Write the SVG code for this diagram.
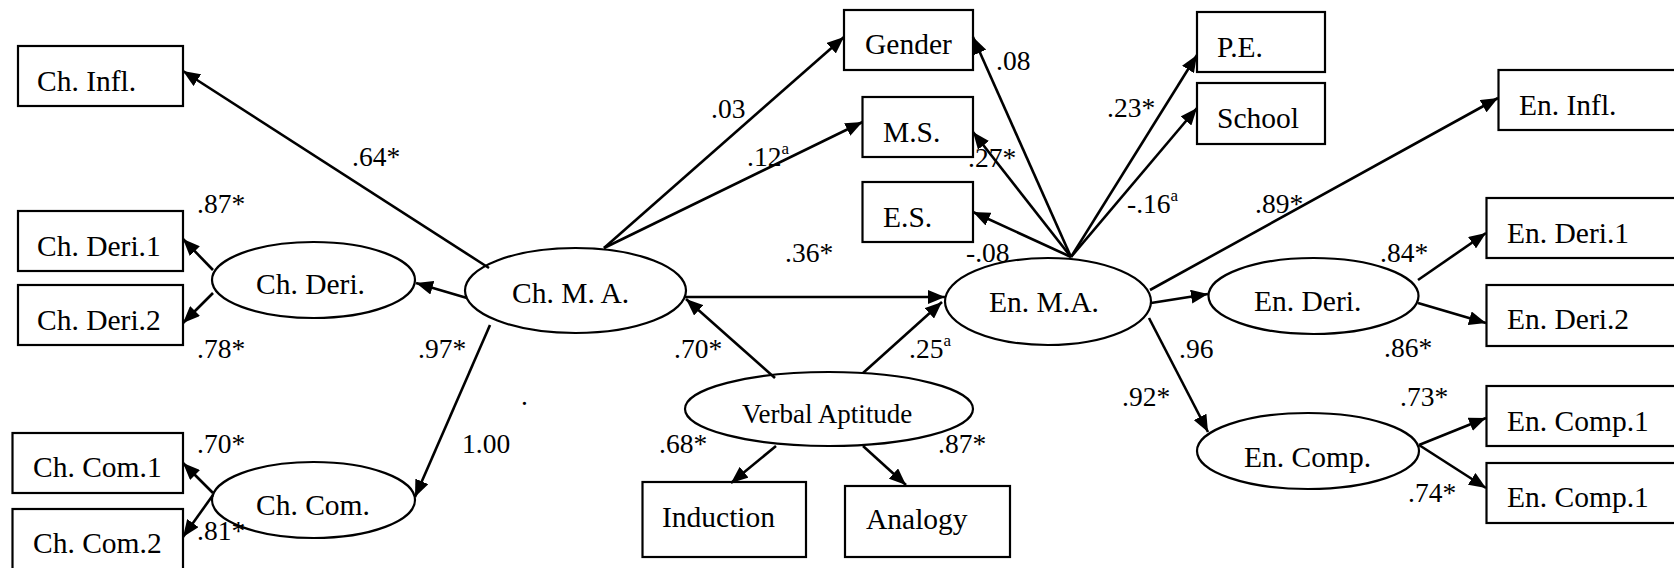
<svg xmlns="http://www.w3.org/2000/svg" width="1674" height="568" viewBox="0 0 1674 568">
<style>
.box{fill:#fff;stroke:#000;stroke-width:2.2}
.ell{fill:#fff;stroke:#000;stroke-width:2.2}
.t{font-family:"Liberation Serif","Times New Roman",serif;font-size:29.5px;fill:#000}
.va{font-family:"Liberation Serif","Times New Roman",serif;font-size:27px;fill:#000}
.lb{font-family:"Liberation Serif","Times New Roman",serif;font-size:27.5px;fill:#000}
.sup{font-size:17px}
.c line{stroke:#000;stroke-width:2.6;marker-end:url(#ah)}
</style>
<defs>
<marker id="ah" markerUnits="userSpaceOnUse" markerWidth="18" markerHeight="14" refX="17" refY="7" orient="auto">
<path d="M0,0 L17,7 L0,14 z" fill="#000"/>
</marker>
</defs>
<rect width="1674" height="568" fill="#fff"/>

<g id="ch_infl"><rect class="box" x="18" y="46" width="165" height="60"/><text class="t" x="37" y="91">Ch. Infl.</text></g>
<g id="ch_deri1"><rect class="box" x="18" y="211" width="165" height="60"/><text class="t" x="37" y="256">Ch. Deri.1</text></g>
<g id="ch_deri2"><rect class="box" x="18" y="285" width="165" height="60"/><text class="t" x="37" y="330">Ch. Deri.2</text></g>
<g id="ch_com1"><rect class="box" x="12.5" y="433" width="170.5" height="60"/><text class="t" x="33" y="477">Ch. Com.1</text></g>
<g id="ch_com2"><rect class="box" x="12.5" y="509" width="170.5" height="70"/><text class="t" x="33" y="553">Ch. Com.2</text></g>
<g id="ch_deri"><ellipse class="ell" cx="313.5" cy="280" rx="101.5" ry="38"/><text class="t" x="256" y="294">Ch. Deri.</text></g>
<g id="ch_com"><ellipse class="ell" cx="313.5" cy="500" rx="101.5" ry="38"/><text class="t" x="256" y="515">Ch. Com.</text></g>
<g id="ch_ma"><ellipse class="ell" cx="575.5" cy="290.5" rx="110.5" ry="42.5"/><text class="t" x="512" y="303">Ch. M. A.</text></g>
<g id="gender"><rect class="box" x="844" y="10" width="129" height="60"/><text class="t" x="865" y="54">Gender</text></g>
<g id="ms"><rect class="box" x="862.5" y="97" width="110.5" height="60"/><text class="t" x="883" y="142">M.S.</text></g>
<g id="es"><rect class="box" x="862.5" y="182" width="110.5" height="60"/><text class="t" x="883" y="227">E.S.</text></g>
<g id="en_ma"><ellipse class="ell" cx="1048" cy="301.5" rx="103" ry="43.5"/><text class="t" x="989" y="312">En. M.A.</text></g>
<g id="verbal"><ellipse class="ell" cx="829" cy="409" rx="144" ry="37"/><text class="va" x="742" y="423">Verbal Aptitude</text></g>
<g id="induction"><rect class="box" x="642.5" y="482" width="163.5" height="75"/><text class="t" x="662" y="527">Induction</text></g>
<g id="analogy"><rect class="box" x="845" y="486" width="165" height="71"/><text class="t" x="866" y="529">Analogy</text></g>
<g id="pe"><rect class="box" x="1197" y="12" width="128" height="60"/><text class="t" x="1217" y="57">P.E.</text></g>
<g id="school"><rect class="box" x="1197" y="83" width="128" height="61"/><text class="t" x="1217" y="128">School</text></g>
<g id="en_infl"><rect class="box" x="1498.5" y="70" width="200" height="60"/><text class="t" x="1519" y="115">En. Infl.</text></g>
<g id="en_deri1"><rect class="box" x="1486.5" y="198" width="200" height="60"/><text class="t" x="1507" y="243">En. Deri.1</text></g>
<g id="en_deri2"><rect class="box" x="1486.5" y="285" width="200" height="61"/><text class="t" x="1507" y="329">En. Deri.2</text></g>
<g id="en_comp1a"><rect class="box" x="1486.5" y="386" width="200" height="60"/><text class="t" x="1507" y="431">En. Comp.1</text></g>
<g id="en_comp1b"><rect class="box" x="1486.5" y="463" width="200" height="60"/><text class="t" x="1507" y="507">En. Comp.1</text></g>
<g id="en_deri"><ellipse class="ell" cx="1313.5" cy="296" rx="105" ry="38"/><text class="t" x="1254" y="311">En. Deri.</text></g>
<g id="en_comp"><ellipse class="ell" cx="1308" cy="451" rx="111" ry="38"/><text class="t" x="1244" y="467">En. Comp.</text></g>

<g id="connectors" class="c">
<line x1="489" y1="268" x2="183" y2="71"/>
<line x1="467" y1="298" x2="416" y2="283"/>
<line x1="490" y1="325" x2="415" y2="497"/>
<line x1="213" y1="270" x2="183" y2="239"/>
<line x1="213" y1="293" x2="183" y2="323"/>
<line x1="213" y1="493" x2="183" y2="463"/>
<line x1="213" y1="495" x2="183" y2="537"/>
<line x1="604" y1="248" x2="844" y2="37"/>
<line x1="604" y1="248" x2="862.5" y2="122"/>
<line x1="685" y1="297" x2="945" y2="297"/>
<line x1="775" y1="378" x2="686" y2="299"/>
<line x1="863" y1="373" x2="942" y2="302"/>
<line x1="776" y1="446" x2="731" y2="483"/>
<line x1="863" y1="446" x2="906" y2="485"/>
<line x1="1071" y1="257" x2="973" y2="37"/>
<line x1="1071" y1="257" x2="973" y2="132"/>
<line x1="1071" y1="257" x2="973" y2="212"/>
<line x1="1071" y1="257" x2="1197" y2="55"/>
<line x1="1071" y1="257" x2="1197" y2="108"/>
<line x1="1150" y1="290" x2="1498" y2="98"/>
<line x1="1151" y1="303" x2="1208" y2="294"/>
<line x1="1149" y1="318" x2="1208" y2="432"/>
<line x1="1418" y1="280" x2="1486" y2="233"/>
<line x1="1418" y1="303" x2="1486" y2="323"/>
<line x1="1419" y1="445" x2="1486" y2="418"/>
<line x1="1419" y1="445" x2="1486" y2="488"/>
</g>

<g id="labels" class="lb">
<text x="352" y="166">.64*</text>
<text x="197" y="213">.87*</text>
<text x="197" y="358">.78*</text>
<text x="418" y="358">.97*</text>
<text x="521" y="405">.</text>
<text x="462" y="453">1.00</text>
<text x="197" y="453">.70*</text>
<text x="197" y="540">.81*</text>
<text x="711" y="118">.03</text>
<text x="747" y="166">.12<tspan class="sup" dy="-12">a</tspan></text>
<text x="785" y="262">.36*</text>
<text x="996" y="70">.08</text>
<text x="968" y="167">.27*</text>
<text x="966" y="262">-.08</text>
<text x="674" y="358">.70*</text>
<text x="909" y="358">.25<tspan class="sup" dy="-12">a</tspan></text>
<text x="659" y="453">.68*</text>
<text x="938" y="453">.87*</text>
<text x="1107" y="117">.23*</text>
<text x="1127" y="213">-.16<tspan class="sup" dy="-12">a</tspan></text>
<text x="1255" y="213">.89*</text>
<text x="1380" y="262">.84*</text>
<text x="1384" y="357">.86*</text>
<text x="1179" y="358">.96</text>
<text x="1122" y="406">.92*</text>
<text x="1400" y="406">.73*</text>
<text x="1408" y="502">.74*</text>
</g>
</svg>
